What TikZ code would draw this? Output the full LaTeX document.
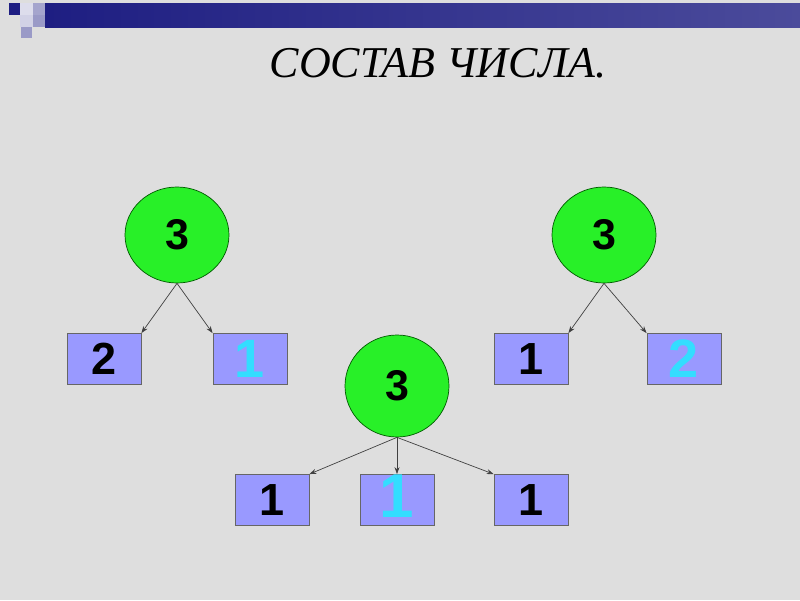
\documentclass[tikz,border=0pt]{standalone}
\usepackage{fontspec}
\setmainfont{Liberation Sans}
\newfontfamily\titlefont{Liberation Serif}
\usetikzlibrary{shapes.geometric, arrows.meta}

\definecolor{slidegray}{RGB}{222,222,222}
\definecolor{ballgreen}{RGB}{40,240,40}
\definecolor{boxblue}{RGB}{153,153,255}
\definecolor{digitcyan}{RGB}{51,221,255}
\definecolor{barnavy}{RGB}{30,30,130}

\begin{document}
\begin{tikzpicture}[x=1pt, y=-1pt, >={Stealth[length=7pt, width=5pt]},
    ball/.style={ellipse, draw=green!35!black, fill=ballgreen, line width=0.7pt,
        minimum width=104pt, minimum height=96pt, inner sep=0pt,
        font=\fontsize{43}{43}\selectfont\bfseries},
    numbox/.style={rectangle, draw=black!60, fill=boxblue, line width=0.8pt,
        minimum width=74pt, minimum height=51pt, inner sep=0pt,
        font=\fontsize{45}{45}\selectfont\bfseries},
    bignum/.style={text=digitcyan, font=\fontsize{54}{54}\selectfont\bfseries},
    link/.style={->, black!75, line width=0.7pt}]

    % Background of the slide
    \fill[slidegray] (0,0) rectangle (800,600);
    \useasboundingbox (0,0) rectangle (800,600);

    % Top banner
    \shade[left color=barnavy, right color=barnavy!80!white] (45,3) rectangle (800,27);
    \fill[barnavy] (9,3) rectangle (20,15);
    \fill[white!85!barnavy] (20,3) rectangle (33,15);
    \fill[white!60!barnavy] (33,3) rectangle (45,15);
    \fill[white!80!barnavy] (20,15) rectangle (33,27);
    \fill[white!55!barnavy] (33,15) rectangle (45,27);
    \fill[white!55!barnavy] (21,27) rectangle (32,38);

    % Title
    \node (title) at (438,63) {\titlefont\itshape\fontsize{44}{44}\selectfont СОСТАВ ЧИСЛА.};

    % Left: 3 = 2 + 1
    \node[ball] (c1) at (177,235) {3};
    \node[numbox] (b1) at (104,359) {2};
    \node[numbox, bignum] (b2) at (250,359) {1};

    % Right: 3 = 1 + 2
    \node[ball] (c2) at (604,235) {3};
    \node[numbox] (b3) at (531,359) {1};
    \node[numbox, bignum] (b4) at (684,359) {2};

    % Middle: 3 = 1 + 1 + 1
    \node[ball, minimum height=102pt] (c3) at (397,386) {3};
    \node[numbox] (b5) at (272,500) {1};
    \node[numbox] (b6) at (397,500) {};
    \node[bignum, font=\fontsize{62}{62}\selectfont\bfseries] (n6) at (397,496) {1};
    \node[numbox] (b7) at (531,500) {1};

    % Arrows
    \draw[link] (c1.south) -- (b1.north east);
    \draw[link] (c1.south) -- (b2.north west);
    \draw[link] (c2.south) -- (b3.north east);
    \draw[link] (c2.south) -- (b4.north west);
    \draw[link] (c3.south) -- (b5.north east);
    \draw[link] (c3.south) -- (b6.north);
    \draw[link] (c3.south) -- (b7.north west);
\end{tikzpicture}
\end{document}
